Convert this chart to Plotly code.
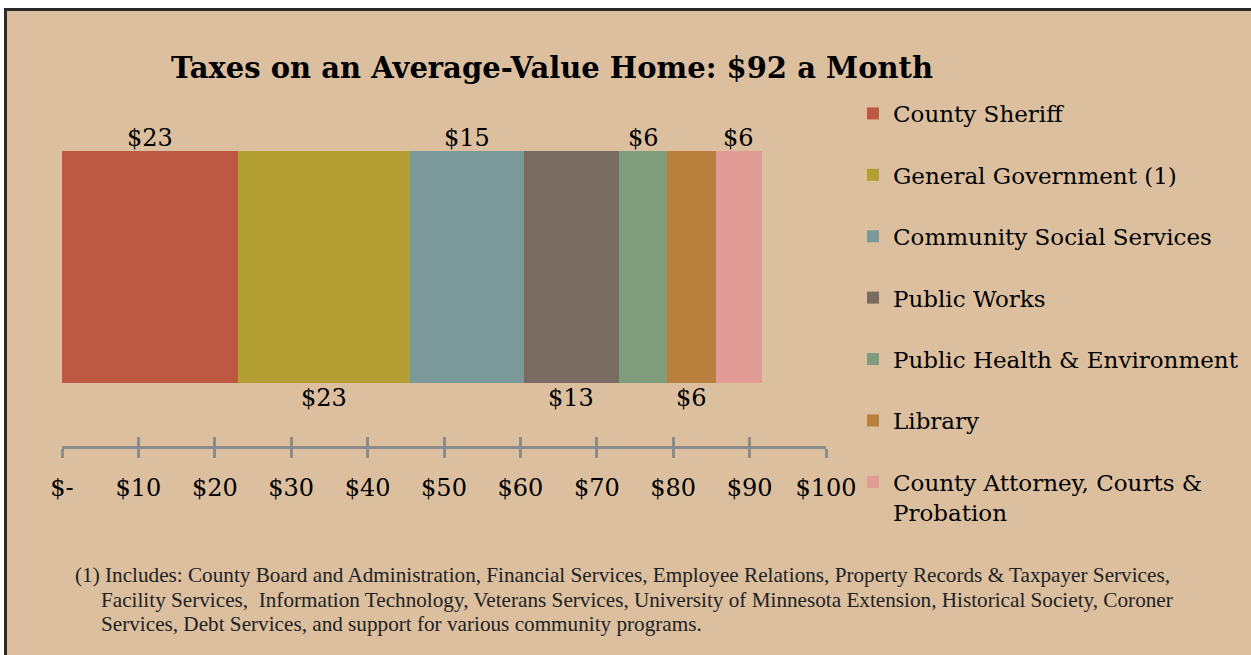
import plotly.graph_objects as go

# ---- data ----
categories = ["County Sheriff", "General Government (1)", "Community Social Services",
              "Public Works", "Public Health & Environment", "Library",
              "County Attorney, Courts &<br>Probation"]
values = [23.05, 22.5, 14.9, 12.45, 6.3, 6.4, 6.0]
label_text = ["$23", "$23", "$15", "$13", "$6", "$6", "$6"]
label_side = ["above", "below", "above", "below", "above", "below", "above"]
colors = ["#bd5842", "#b49f32", "#7b9999", "#7a6c62", "#7f9d7c", "#b9803d", "#e09b94"]
tick_vals = [0, 10, 20, 30, 40, 50, 60, 70, 80, 90, 100]
tick_text = ["$-", "$10", "$20", "$30", "$40", "$50", "$60", "$70", "$80", "$90", "$100"]
title_text = "Taxes on an Average-Value Home: $92 a Month"
footnote_lines = [
    "(1) Includes: County Board and Administration, Financial Services, Employee Relations, Property Records & Taxpayer Services,",
    "Facility Services,  Information Technology, Veterans Services, University of Minnesota Extension, Historical Society, Coroner",
    "Services, Debt Services, and support for various community programs.",
]

BG = "#dbbf9f"
SERIF = "DejaVu Serif, serif"
AXIS = "#8c8c8c"

fig = go.Figure()
for i, (name, v, c) in enumerate(zip(categories, values, colors)):
    fig.add_trace(go.Bar(
        x=[v], y=[0], orientation="h", name=name, width=1,
        marker=dict(color=c, line=dict(width=0)),
        legendgroup=f"g{i}", hoverinfo="skip",
    ))
# dummy trace so overlaying axis (inward ticks) is drawn
fig.add_trace(go.Scatter(x=[None], y=[None], xaxis="x2", yaxis="y",
                         showlegend=False, hoverinfo="skip"))

annotations = []
cum = 0
for v, t, side in zip(values, label_text, label_side):
    mid = cum + v / 2
    cum += v
    if side == "above":
        annotations.append(dict(x=mid, y=0.5, xref="x", yref="y", text=t, showarrow=False,
                                yanchor="bottom", yshift=-3,
                                font=dict(family=SERIF, size=24, color="#000")))
    else:
        annotations.append(dict(x=mid, y=-0.5, xref="x", yref="y", text=t, showarrow=False,
                                yanchor="top", yshift=1,
                                font=dict(family=SERIF, size=24, color="#000")))

MT, MB = 151, 209
PW = 764.0
PH = 655.0 - MT - MB
BOT = 655 - MB
def px_x(p):
    return (p - 62) / PW
def px_y(p):
    return (BOT - p) / PH

foot_x = [73, 99, 99]
foot_y = [575, 600, 624]
for line, fx, fy in zip(footnote_lines, foot_x, foot_y):
    annotations.append(dict(x=px_x(fx), y=px_y(fy), xref="paper", yref="paper", text=line,
                            showarrow=False, xanchor="left", yanchor="middle",
                            font=dict(family="Liberation Serif, Times New Roman, serif", size=21.2, color="#222")))

fig.update_layout(
    width=1251, height=655,
    barmode="stack",
    paper_bgcolor="white",
    plot_bgcolor="rgba(0,0,0,0)",
    margin=dict(l=62, r=425, t=MT, b=MB, pad=0, autoexpand=False),
    title=dict(text="<b>" + title_text + "</b>", xref="container", yref="container",
               x=552 / 1251, y=1 - 68 / 655, xanchor="center", yanchor="middle",
               font=dict(family=SERIF, size=29, color="#000")),
    xaxis=dict(range=[0, 100], tickvals=tick_vals, ticktext=tick_text,
               showline=True, linecolor=AXIS, linewidth=3,
               ticks="outside", ticklen=9, tickwidth=2.5, tickcolor=AXIS,
               showgrid=False, zeroline=False, ticklabelstandoff=9,
               tickfont=dict(family=SERIF, size=24, color="#000"), fixedrange=True),
    xaxis2=dict(range=[0, 100], overlaying="x", side="bottom", tickvals=tick_vals,
                showticklabels=False, showline=False, ticks="inside", ticklen=9,
                tickwidth=2.5, tickcolor=AXIS, showgrid=False, zeroline=False),
    yaxis=dict(range=[0.5 - PH / 232.0, 0.5], visible=False, fixedrange=True),
    showlegend=True,
    legend=dict(xref="container", yref="container", x=853 / 1251, y=1 - 92 / 655,
                xanchor="left", yanchor="top", traceorder="grouped", tracegroupgap=28.5,
                valign="top", bgcolor="rgba(0,0,0,0)", maxheight=620,
                font=dict(family=SERIF, size=23, color="#000")),
    annotations=annotations,
    shapes=[dict(type="rect", xref="paper", yref="paper",
                 x0=px_x(5.5), x1=px_x(1400), y0=px_y(800), y1=px_y(9.5),
                 fillcolor=BG, line=dict(color="#2a2a2a", width=3), layer="below")],
)

fig.write_html("out.html", config={"displayModeBar": False},
               post_script="document.body.style.margin='0';")
